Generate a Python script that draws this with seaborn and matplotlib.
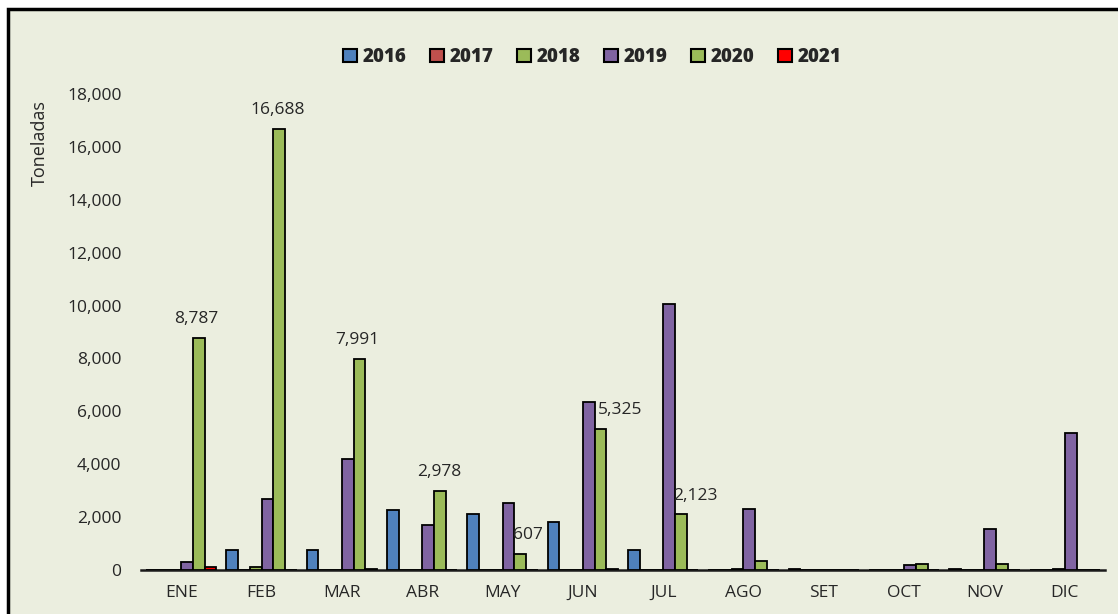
import matplotlib.pyplot as plt
import seaborn as sns
import pandas as pd
from matplotlib.patches import Rectangle

sns.set_style("white")
plt.rcParams['font.family'] = ['Open Sans', 'DejaVu Sans']

# data
months = ["ENE", "FEB", "MAR", "ABR", "MAY", "JUN", "JUL", "AGO", "SET", "OCT", "NOV", "DIC"]
years = ["2016", "2017", "2018", "2019", "2020", "2021"]
v2016 = [0, 756, 756, 2258, 2106, 1815, 756, 0, 50, 0, 50, 0]
v2017 = [0, 0, 0, 0, 0, 0, 0, 0, 0, 0, 0, 0]
v2018 = [0, 100, 0, 0, 0, 0, 0, 30, 0, 0, 0, 50]
v2019 = [314, 2674, 4198, 1702, 2522, 6366, 10060, 2296, 0, 178, 1562, 5193]
v2020 = [8787, 16688, 7991, 2978, 607, 5325, 2123, 352, 0, 216, 216, 0]
v2021 = [110, 0, 50, 0, 0, 50, 0, 0, 0, 0, 0, 0]
labels_2020 = ["8,787", "16,688", "7,991", "2,978", "607", "5,325", "2,123"]

colors = {"2016": "#4F81BD", "2017": "#C0504D", "2018": "#9BBB59",
          "2019": "#8064A2", "2020": "#9BBB59", "2021": "#FF0000"}

series = [v2016, v2017, v2018, v2019, v2020, v2021]
rows = []
for y, vals in zip(years, series):
    for m, v in zip(months, vals):
        rows.append({"Mes": m, "Año": y, "Toneladas": v})
df = pd.DataFrame(rows)

fig = plt.figure(figsize=(11.18, 6.14), dpi=100, facecolor="white")
# chart area background with black frame
fig.patches.append(Rectangle((8 / 1118, -0.05), 1.2, 1 - 9 / 614 + 0.05,
                             transform=fig.transFigure, facecolor="#EBEEDF",
                             edgecolor="black", linewidth=2.5, zorder=-5))

ax = fig.add_axes([141 / 1118, 44 / 614, (1105 - 141) / 1118, (570 - 94) / 614])
ax.set_facecolor("none")

sns.barplot(data=df, x="Mes", y="Toneladas", hue="Año", order=months,
            hue_order=years, palette=colors, width=0.875, edgecolor="black",
            linewidth=1.3, saturation=1, errorbar=None, ax=ax)

ax.set_ylim(0, 18000)
ax.set_xlim(-0.5, 11.5)
ax.set_yticks(range(0, 18001, 2000))
ax.set_yticklabels([f"{t:,}" for t in range(0, 18001, 2000)])
ax.tick_params(axis="both", labelsize=12.5, colors="#262626", length=0)
ax.tick_params(axis="y", pad=14)
ax.tick_params(axis="x", pad=11)
ax.set_xlabel("")
ax.set_ylabel("")
for s in ["left", "right", "top"]:
    ax.spines[s].set_visible(False)
ax.spines["bottom"].set_color("#1a1a1a")
ax.spines["bottom"].set_linewidth(1.8)
ax.spines["bottom"].set_zorder(0.5)

fig.text(40 / 1118, 1 - 143 / 614, "Toneladas", rotation=90, ha="center",
         va="center", fontsize=13, color="#262626")

# data labels for 2020 (offsets in pixels)
offsets = [(-2, 19), (-1, 19), (-2, 19), (0, 19), (8, 19), (20, 19), (15, 18)]
bars_2020 = ax.containers[4]
for bar, text, (dx, dy) in zip(bars_2020, labels_2020, offsets):
    ax.annotate(text, (bar.get_x() + bar.get_width() / 2, bar.get_height()),
                xytext=(dx, dy), textcoords="offset pixels", ha="center",
                va="center", fontsize=12.5, color="#262626")

ax.legend_.remove()
handles = [Rectangle((0, 0), 1, 1, facecolor=colors[y], edgecolor="black",
                     linewidth=1.5) for y in years]
fig.legend(handles, years, loc="center", bbox_to_anchor=(592 / 1118, 1 - 57 / 614),
           ncol=6, frameon=False, prop={"weight": "heavy", "size": 13.5},
           handlelength=0.75, handleheight=0.75, handletextpad=0.3,
           columnspacing=1.25)

fig.savefig("out.png", dpi=100, facecolor="white")
